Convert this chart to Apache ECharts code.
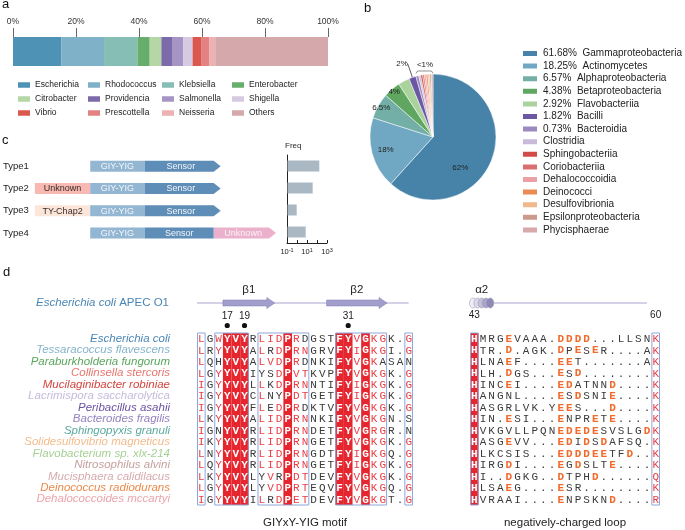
<!DOCTYPE html>
<html><head><meta charset="utf-8">
<script src="https://cdn.jsdelivr.net/npm/echarts@6.0.0/dist/echarts.min.js"></script>
<style>html,body{margin:0;padding:0;background:#fff;}#chart{width:685px;height:530px;}</style>
</head><body><div id="chart"></div>
<script>
const FONT = '"Liberation Sans", Arial, Helvetica, sans-serif';
const MONO = '"Liberation Mono", "Courier New", monospace';

// ---------------- panel a data ----------------
const genera = ['Escherichia','Rhodococcus','Klebsiella','Enterobacter','Citrobacter','Providencia','Salmonella','Shigella','Vibrio','Prescottella','Neisseria','Others'];
const generaShare = [15.3,13.6,10.6,3.9,3.7,3.6,3.3,3.0,2.9,2.5,1.8,35.8];

// ---------------- panel b data ----------------
const classes = ['Gammaproteobacteria','Actinomycetes','Alphaproteobacteria','Betaproteobacteria','Flavobacteriia','Bacilli','Bacteroidia','Clostridia','Sphingobacteriia','Coriobacteriia','Dehalococcoidia','Deinococci','Desulfovibrionia','Epsilonproteobacteria','Phycisphaerae'];
const classShare = [61.68,18.25,6.57,4.38,2.92,1.82,0.73,0.5,0.5,0.45,0.45,0.45,0.45,0.4,0.45];
const classLegendPct = ['61.68%','18.25%','6.57%','4.38%','2.92%','1.82%','0.73%','','','','','','','',''];
const sliceLabels = ['62%','18%','6.5%','4%','3%','2%'];
const smallGroupLabel = '<1%';

// ---------------- panel c data ----------------
const types = ['Type1','Type2','Type3','Type4'];
const domainType  = [0,0,1,1,1,2,2,2,3,3,3];
const domainName  = ['GIY-YIG','Sensor','Unknown','GIY-YIG','Sensor','TY-Chap2','GIY-YIG','Sensor','GIY-YIG','Sensor','Unknown'];
const domainStart = [56,111,0,56,111,0,56,111,56,111,181];
const domainEnd   = [111,188,56,111,188,56,111,188,111,181,244];
const typeFreq = [170,37,0.93,7.4];

// ---------------- panel d data ----------------
const species = ['Escherichia coli','Tessaracoccus flavescens','Paraburkholderia fungorum','Collinsella stercoris','Mucilaginibacter robiniae','Lacrimispora saccharolytica','Peribacillus asahii','Bacteroides fragilis','Sphingopyxis granuli','Solidesulfovibrio magneticus','Flavobacterium sp. xlx-214','Nitrosophilus alvini','Mucisphaera calidilacus','Deinococcus radiodurans','Dehalococcoides mccartyi'];
const motifSeqs = [
 'LGWYVYRLIDPRDGSTFYVGKGK.G','LRYYVYALRDPRNGRVFYIGKGI.G','LQHYVYALVDPRDNKIFYVGKASAN','LGYYVYIYSDPVTKVPFYVGKGK.G',
 'IGYYVYLLKDPRNNTIFYIGKGK.G','IGYYVYCLNYPDTGETFYIGKGK.G','IGYYVYFLEDPRDKTVFYVGKGK.G','LKYYVYALIDPRNNKIFYVGKGN.S',
 'IGNYVYRLIDPRNDETFYVGRGR.N','IKYYVYRLIDPRNGETFYVGKGK.G','LNYYVYRLIDPRNGDTFYIGKGQ.G','LQYYVYRLIDPRNGETFYIGKGK.G',
 'LKYYVYLYVRPDTDEVFYVGKGK.G','LGYYVYLYVDPRTEQVFYVGKGQ.G','IGYYVYILRDPETDEVFYVGKGT.G'];
const loopSeqs = [
 'HMRGEVAAA.DDDD...LLSNK','HTR.D.AGK.DPESER....AK','HLNAEF....EET.......AK','HLH.DGS...ESD........K',
 'HINCEI....EDATNND....K','HANGNL....ESDSNIE....K','HASGRLVK.YEES...D....K','HIN.ESI...ENPRETE....K',
 'HVKGVLLPQNEDEDESVSLGDK','HASGEVV...EDIDSDAFSQ.K','HLKCSIS...EDDDEETFD..K','HIRGDI....EGDSLTE....K',
 'HI..DGKG..DTPHD......Q','HLSAEG....ESR........K','HVRAAI....ENPSKND....R'];
const motifFirstResidue = 14;
const motifMarked = [17,19,31];
const motifSSE = ['β1','β2'];
const motifSSEFrom = [17,29];
const motifSSETo = [22,35];
const motifLineEnd = 37;
const loopFirstResidue = 43;
const loopNumbers = [43,60];
const loopHelix = ['α2'];
const loopHelixFrom = [43];
const loopHelixTo = [45];
const loopLineEnd = 59;

// ---------------- styles ----------------
const generaColors = ['#4e93b6','#7fb1c8','#86bdb5','#67ae6c','#b5d7a6','#7d6aab','#a594c4','#d6cae2','#db5850','#e48282','#eeb1b2','#d5a9ab'];
const classColors = ['#4783a9','#70a8c3','#73afa6','#5fa660','#a9d29c','#6b57a2','#9b89c0','#c9badb','#d24b47','#d9706f','#eba0a3','#e98b52','#f0b98b','#cc9a8d','#d8a9aa'];
const speciesColors = ['#4a86b5','#86b4cc','#5aa65c','#e57670','#d4443e','#c8bcdc','#6b52a3','#9483c0','#5ba99f','#f3bc8e','#a6d096','#c4a09e','#d6aab0','#ea8a4c','#eba4aa'];
const domainColors = ['#93b6d3','#5e8db7','#f7b9b1','#93b6d3','#5e8db7','#fce6da','#93b6d3','#5e8db7','#93b6d3','#5e8db7','#ebb1cc'];
const domainText = ['#f3f7fb','#f3f7fb','#3a2b2b','#f3f7fb','#f3f7fb','#3a2b2b','#f3f7fb','#f3f7fb','#f3f7fb','#f3f7fb','#fdf1f6'];
const RED = '#e5262e', SIMRED = '#ea3d44', ORANGE = '#f26a2c', BOX = '#8ea7d9', DARK = '#3a3a3a';
const leftBoxes = [[0,0],[2,5],[7,12],[16,21],[24,24]];
const rightBoxes = [[0,0],[21,21]];
const leftSim = {0:'LI',2:'WY',7:'LI',8:'IV',9:'D',11:'RVDE',12:'NT',18:'VI',20:'KR',21:'G',24:'G'};
const rightSim = {21:'KQR'};

function residueCols(seq, start) { const m = {}; let r = start; for (let i = 0; i < seq.length; i++) { if (seq[i] !== '.') { m[r] = i; r++; } } return m; }
const motifCol = residueCols(motifSeqs[0], motifFirstResidue);
const loopCol = residueCols(loopSeqs[0], loopFirstResidue);
function conservedCols(seqs) { const out = []; for (let c = 0; c < seqs[0].length; c++) { const ch = seqs[0][c]; if (ch !== '.' && seqs.every(s => s[c] === ch)) out.push(c); } return out; }

function residueSeries(gi, seqs, sim, orangeDE) {
  const fills = conservedCols(seqs);
  const data = [];
  seqs.forEach((s, r) => { for (let c = 0; c < s.length; c++) data.push([c, r]); });
  return {
    type: 'custom', xAxisIndex: gi, yAxisIndex: gi, silent: true, z: 3,
    encode: {x: 0, y: 1}, data,
    renderItem: (params, api) => {
      const c = api.value(0), r = api.value(1);
      const p = api.coord([c, r]);
      const ch = seqs[r][c];
      let fill = DARK, weight = 'normal';
      if (fills.indexOf(c) >= 0) { fill = '#ffffff'; weight = 'bold'; }
      else if (sim[c] && sim[c].indexOf(ch) >= 0) { fill = SIMRED; }
      else if (orangeDE && (ch === 'D' || ch === 'E')) { fill = ORANGE; weight = 'bold'; }
      return {type: 'text', style: {text: ch, x: p[0], y: p[1] + 0.5, align: 'center', verticalAlign: 'middle', fill, font: weight + ' 11px ' + MONO}};
    }
  };
}
function fillSeries(gi, seqs) {
  return {
    type: 'custom', xAxisIndex: gi, yAxisIndex: gi, silent: true, z: 2,
    encode: {x: 0, y: 1}, data: conservedCols(seqs).map(c => [c, 0]),
    renderItem: (params, api) => {
      const cs = params.coordSys; const w = api.size([1, 0])[0];
      const x = api.coord([api.value(0) - 0.5, 0])[0];
      return {type: 'rect', shape: {x, y: cs.y, width: w, height: cs.height}, style: {fill: RED}};
    }
  };
}
function boxSeries(gi, boxes) {
  return {
    type: 'custom', xAxisIndex: gi, yAxisIndex: gi, silent: true, z: 4,
    encode: {x: [0, 1], y: 2}, data: boxes.map(b => [b[0], b[1], 0]),
    renderItem: (params, api) => {
      const cs = params.coordSys;
      const x0 = api.coord([api.value(0) - 0.5, 0])[0], x1 = api.coord([api.value(1) + 0.5, 0])[0];
      return {type: 'rect', shape: {x: x0 + 0.5, y: cs.y, width: x1 - x0 - 1, height: cs.height}, style: {fill: 'none', stroke: BOX, lineWidth: 1}};
    }
  };
}
const SSE_FILL = '#a29ecc', SSE_STROKE = '#7f7bb0', SSE_LINE = '#aaa6d2';
function motifHeader() {
  return {
    type: 'custom', xAxisIndex: 3, yAxisIndex: 3, silent: true, z: 5,
    encode: {x: 0, y: 1}, data: [[0, 0]],
    renderItem: (params, api) => {
      const top = params.coordSys.y;
      const cx = c => api.coord([c, 0])[0];
      const ly = top - 30;
      const ch = [];
      ch.push({type: 'line', shape: {x1: cx(-0.5), y1: ly, x2: cx(motifCol[motifLineEnd]), y2: ly}, style: {stroke: SSE_LINE, lineWidth: 1.2}});
      motifSSE.forEach((n, k) => {
        const x0 = cx(motifCol[motifSSEFrom[k]] - 0.5), x1 = cx(motifCol[motifSSETo[k]] + 0.5);
        ch.push({type: 'polygon', shape: {points: [[x0, ly - 3], [x1 - 8, ly - 3], [x1 - 8, ly - 5.5], [x1, ly], [x1 - 8, ly + 5.5], [x1 - 8, ly + 3], [x0, ly + 3]]}, style: {fill: SSE_FILL, stroke: SSE_STROKE, lineWidth: 0.5}});
        ch.push({type: 'text', style: {text: n, x: (x0 + x1) / 2, y: ly - 13, align: 'center', verticalAlign: 'middle', fill: '#222', font: '11.5px ' + FONT}});
      });
      motifMarked.forEach(res => {
        const x = cx(motifCol[res]);
        ch.push({type: 'text', style: {text: String(res), x, y: top - 17, align: 'center', verticalAlign: 'middle', fill: '#222', font: '10px ' + FONT}});
        ch.push({type: 'circle', shape: {cx: x, cy: top - 7.5, r: 2.6}, style: {fill: '#111'}});
      });
      return {type: 'group', children: ch};
    }
  };
}
function loopHeader() {
  return {
    type: 'custom', xAxisIndex: 4, yAxisIndex: 4, silent: true, z: 5,
    encode: {x: 0, y: 1}, data: [[0, 0]],
    renderItem: (params, api) => {
      const top = params.coordSys.y;
      const cx = c => api.coord([c, 0])[0];
      const ly = top - 30;
      const ch = [];
      const hx0 = cx(loopCol[loopHelixFrom[0]] - 0.55), hx1 = cx(loopCol[loopHelixTo[0]] + 0.25);
      ch.push({type: 'line', shape: {x1: hx1, y1: ly, x2: cx(loopCol[loopLineEnd]), y2: ly}, style: {stroke: SSE_LINE, lineWidth: 1.2}});
      const nCoil = 5, step = (hx1 - hx0 - 7) / (nCoil - 1);
      const shades = ['#f0eff5', '#dcdae8', '#c3c0d8', '#a9a5c8', '#8e8ab6'];
      for (let k = 0; k < nCoil; k++) {
        ch.push({type: 'ellipse', shape: {cx: hx0 + 3.5 + k * step, cy: ly, rx: 3.5, ry: 5}, style: {fill: shades[k], stroke: '#8f8ba8', lineWidth: 0.5}});
      }
      ch.push({type: 'text', style: {text: loopHelix[0], x: (hx0 + hx1) / 2, y: ly - 13, align: 'center', verticalAlign: 'middle', fill: '#222', font: '11.5px ' + FONT}});
      loopNumbers.forEach(res => {
        ch.push({type: 'text', style: {text: String(res), x: cx(loopCol[res]), y: top - 18, align: 'center', verticalAlign: 'middle', fill: '#222', font: '10px ' + FONT}});
      });
      return {type: 'group', children: ch};
    }
  };
}

// ---------------- option ----------------
const legendCols = [[0,4,8],[1,5,9],[2,6,10],[3,7,11]];
const legendColX = [18, 88, 162, 232];

function labelPie(radius, idxs, offset) {
  return {
    type: 'pie', center: [433, 137], radius: radius, startAngle: 90, clockwise: true, silent: true, z: 6,
    avoidLabelOverlap: false, legendHoverLink: false,
    itemStyle: {color: 'rgba(0,0,0,0)', borderWidth: 0},
    labelLine: {show: false},
    emphasis: {disabled: true},
    data: classes.map((n, i) => ({
      name: n, value: classShare[i],
      label: {show: idxs.indexOf(i) >= 0, position: 'inside', formatter: sliceLabels[i] || '', fontSize: 8, color: '#222', fontFamily: FONT, offset: offset || [0, 0]}
    }))
  };
}

const option = {
  animation: false,
  backgroundColor: '#fff',
  textStyle: {fontFamily: FONT},
  title: [
    {text: 'a', left: 2, top: -2, padding: 0, textStyle: {fontSize: 13, fontWeight: 'normal', color: '#111'}},
    {text: 'b', left: 364, top: 2, padding: 0, textStyle: {fontSize: 13, fontWeight: 'normal', color: '#111'}},
    {text: 'c', left: 2, top: 134, padding: 0, textStyle: {fontSize: 13, fontWeight: 'normal', color: '#111'}},
    {text: 'd', left: 3, top: 266, padding: 0, textStyle: {fontSize: 13, fontWeight: 'normal', color: '#111'}},
    {text: 'Freq', left: 285, top: 142, padding: 0, textStyle: {fontSize: 8, fontWeight: 'normal', color: '#222'}},
    {text: '{i|Escherichia coli} APEC O1', right: 516, top: 297, padding: 0,
     textStyle: {fontSize: 11.5, fontWeight: 'normal', color: '#4a86b5', rich: {i: {fontStyle: 'italic', fontSize: 11.5, color: '#4a86b5', fontFamily: FONT}}}}
  ],
  legend: [
    ...legendCols.map((col, k) => ({
      data: col.map(i => genera[i]), orient: 'vertical', left: legendColX[k], top: 80.5, padding: 0,
      itemWidth: 12, itemHeight: 5.5, itemGap: 5, icon: 'rect', selectedMode: false,
      textStyle: {fontSize: 8.5, color: '#222', fontFamily: FONT}
    })),
    {
      data: classes, orient: 'vertical', left: 521, top: 48.5, padding: 0,
      itemWidth: 16, itemHeight: 7, itemGap: 2.6, icon: 'rect', selectedMode: false,
      textStyle: {fontSize: 10, color: '#222', fontFamily: FONT},
      formatter: name => { const i = classes.indexOf(name); return classLegendPct[i] ? classLegendPct[i] + '  ' + name : name; }
    }
  ],
  grid: [
    {left: 13, top: 37, width: 315, height: 29},
    {left: 32, top: 155, width: 244, height: 89},
    {left: 287, top: 155, width: 40, height: 88},
    {left: 197, top: 333, width: 216, height: 173.6},
    {left: 470, top: 333, width: 190, height: 173.6}
  ],
  xAxis: [
    {gridIndex: 0, type: 'value', min: 0, max: 100, interval: 20, position: 'top',
     axisLine: {show: false}, splitLine: {show: false},
     axisTick: {show: true, length: 9, lineStyle: {color: '#666', width: 1}},
     axisLabel: {formatter: '{value}%', fontSize: 8.5, color: '#333', margin: 11}},
    {gridIndex: 1, type: 'value', min: 0, max: 244, show: false},
    {gridIndex: 2, type: 'log', logBase: 10, min: 0.1, max: 1000,
     axisLine: {show: true, onZero: false, lineStyle: {color: '#222', width: 1}},
     axisTick: {show: true, inside: true, length: 3, lineStyle: {color: '#222'}},
     splitLine: {show: false}, minorTick: {show: false},
     axisLabel: {fontSize: 7.5, color: '#222', margin: 4, lineHeight: 10,
       formatter: v => { const e = Math.round(Math.log10(v)); return (e === -1 || e === 1 || e === 3) ? '10{s|' + e + '}' : ''; },
       rich: {s: {fontSize: 5.5, lineHeight: 6, verticalAlign: 'top', color: '#222'}}}},
    {gridIndex: 3, type: 'value', min: -0.5, max: 24.5, axisLine: {show: false}, axisTick: {show: false}, axisLabel: {show: false}, splitLine: {show: false},
     name: 'GIYxY-YIG motif', nameLocation: 'middle', nameGap: 12, nameTextStyle: {fontSize: 11.5, color: '#222', fontFamily: FONT}},
    {gridIndex: 4, type: 'value', min: -0.5, max: 21.5, axisLine: {show: false}, axisTick: {show: false}, axisLabel: {show: false}, splitLine: {show: false},
     name: 'negatively-charged loop', nameLocation: 'middle', nameGap: 12, nameTextStyle: {fontSize: 11.5, color: '#222', fontFamily: FONT}}
  ],
  yAxis: [
    {gridIndex: 0, type: 'category', data: ['genus'], show: false},
    {gridIndex: 1, type: 'category', data: types, inverse: true,
     axisLine: {show: false}, axisTick: {show: false}, axisLabel: {fontSize: 9.5, color: '#222', margin: 6, interval: 0}},
    {gridIndex: 2, type: 'category', data: types, inverse: true,
     axisLine: {show: true, onZero: false, lineStyle: {color: '#222', width: 1}}, axisTick: {show: false}, axisLabel: {show: false}},
    {gridIndex: 3, type: 'category', data: species, inverse: true,
     axisLine: {show: false}, axisTick: {show: false},
     axisLabel: {fontSize: 11.5, fontStyle: 'italic', margin: 27, interval: 0, color: (v, i) => speciesColors[i]}},
    {gridIndex: 4, type: 'category', data: species, inverse: true, show: false}
  ],
  series: [
    ...genera.map((g, i) => ({
      type: 'bar', name: g, stack: 'genus', xAxisIndex: 0, yAxisIndex: 0,
      barWidth: '100%', data: [generaShare[i]], itemStyle: {color: generaColors[i]}, silent: true
    })),
    {
      type: 'pie', center: [433, 137], radius: 63, startAngle: 90, clockwise: true, avoidLabelOverlap: false,
      itemStyle: {borderColor: '#fff', borderWidth: 0.5},
      label: {show: false}, labelLine: {show: false}, emphasis: {disabled: true},
      data: classes.map((n, i) => ({
        name: n, value: classShare[i], itemStyle: {color: classColors[i]},
        label: i === 5 ? {show: true, position: 'outside', formatter: sliceLabels[5], fontSize: 8, color: '#222', fontFamily: FONT, distanceToLabelLine: 0} : {show: false},
        labelLine: i === 5 ? {show: true, length: 14, length2: 0.1, lineStyle: {color: '#333', width: 0.8}} : {show: false}
      }))
    },
    labelPie(76, [0], [-11, 16]),
    labelPie(92, [1]),
    labelPie(113, [2, 3, 4]),
    {
      type: 'custom', xAxisIndex: 1, yAxisIndex: 1, silent: true,
      encode: {x: [0, 1], y: 2},
      data: domainType.map((t, i) => [domainStart[i], domainEnd[i], t, i]),
      renderItem: (params, api) => {
        const i = api.value(3);
        const s = api.coord([api.value(0), api.value(2)]);
        const e = api.coord([api.value(1), api.value(2)]);
        const h = 11, x0 = s[0], x1 = e[0], y = s[1];
        const last = i === domainType.length - 1 || domainType[i + 1] !== domainType[i];
        const tip = last ? 7 : 0;
        const pts = tip ? [[x0, y - h / 2], [x1 - tip, y - h / 2], [x1, y], [x1 - tip, y + h / 2], [x0, y + h / 2]]
                        : [[x0, y - h / 2], [x1, y - h / 2], [x1, y + h / 2], [x0, y + h / 2]];
        return {type: 'group', children: [
          {type: 'polygon', shape: {points: pts}, style: {fill: domainColors[i]}},
          {type: 'text', style: {text: domainName[i], x: (x0 + x1 - tip / 2) / 2, y: y + 0.5, align: 'center', verticalAlign: 'middle', fill: domainText[i], font: '9px ' + FONT}}
        ]};
      }
    },
    {
      type: 'custom', xAxisIndex: 2, yAxisIndex: 2, silent: true,
      encode: {x: 0, y: 1}, data: typeFreq.map((v, i) => [v, i]),
      renderItem: (params, api) => {
        const y = api.value(1);
        const p0 = api.coord([0.1, y]), p1 = api.coord([api.value(0), y]);
        return {type: 'rect', shape: {x: p0[0] + 0.5, y: p0[1] - 5.5, width: p1[0] - p0[0] - 0.5, height: 11}, style: {fill: '#aab8c4'}};
      }
    },
    fillSeries(3, motifSeqs),
    residueSeries(3, motifSeqs, leftSim, false),
    boxSeries(3, leftBoxes),
    motifHeader(),
    fillSeries(4, loopSeqs),
    residueSeries(4, loopSeqs, rightSim, true),
    boxSeries(4, rightBoxes),
    loopHeader()
  ],
  graphic: [
    {type: 'polyline', silent: true, shape: {points: [[416, 73.5], [417.5, 71], [431.5, 71], [433, 73.5]]}, style: {stroke: '#666', lineWidth: 0.7, fill: null}},
    {type: 'text', silent: true, x: 425, y: 65, style: {text: smallGroupLabel, align: 'center', verticalAlign: 'middle', font: '8px ' + FONT, fill: '#222'}}
  ]
};

const chart = echarts.init(document.getElementById('chart'), null, {renderer: 'canvas'});
chart.setOption(option);
</script>
</body></html>
